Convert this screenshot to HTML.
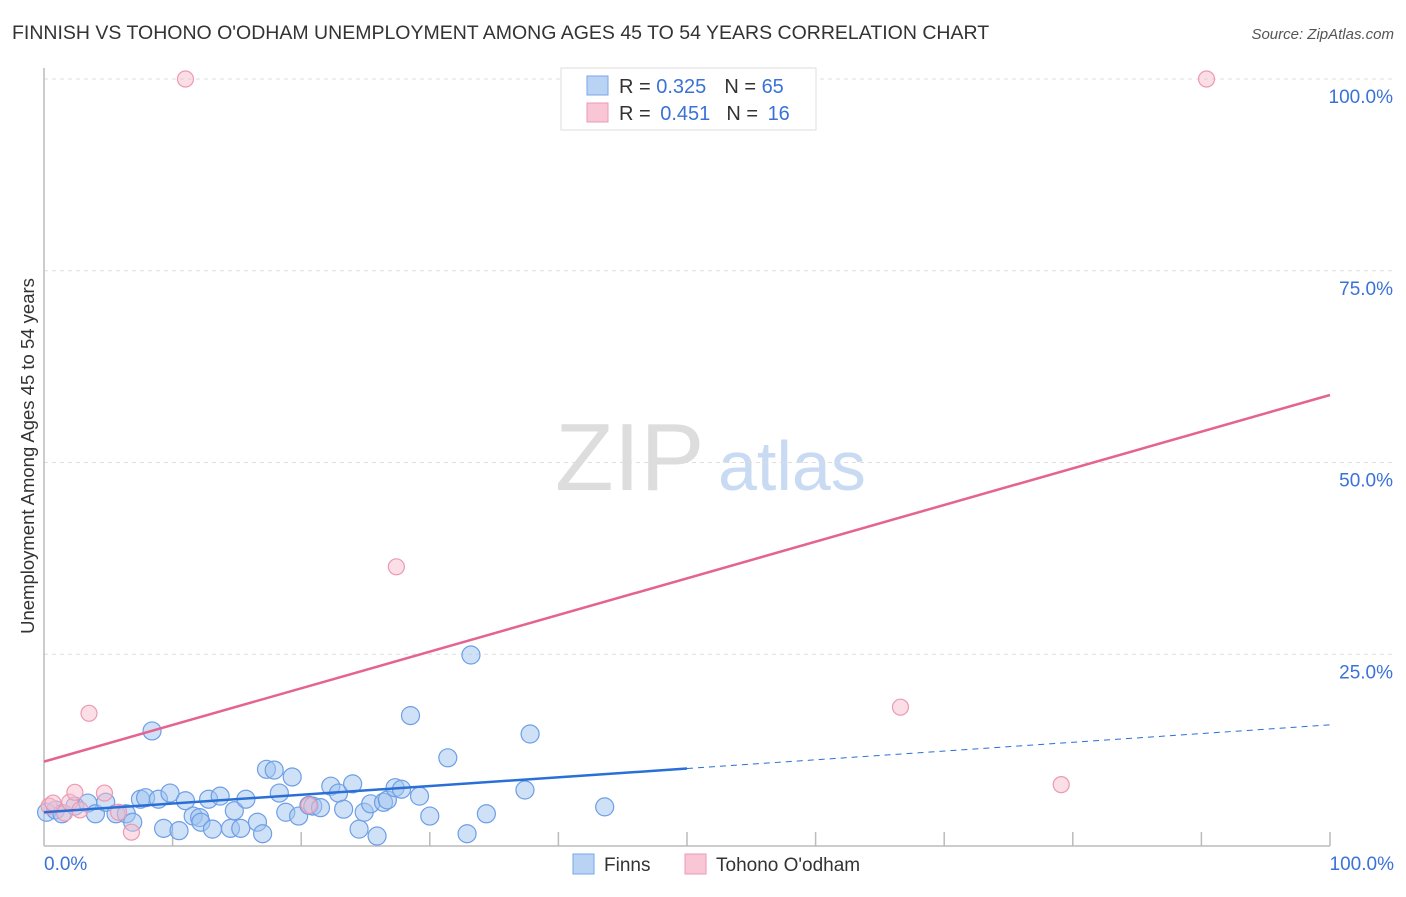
<!DOCTYPE html>
<html><head><meta charset="utf-8"><style>
body{margin:0;background:#fff;font-family:"Liberation Sans",sans-serif;}
svg text{font-family:"Liberation Sans",sans-serif;}
</style></head><body>
<svg width="1406" height="892" viewBox="0 0 1406 892" id="chart">
<text x="12" y="39" font-size="19.5" fill="#333">FINNISH VS TOHONO O'ODHAM UNEMPLOYMENT AMONG AGES 45 TO 54 YEARS CORRELATION CHART</text>
<text x="1394" y="39" font-size="15" fill="#555" font-style="italic" text-anchor="end">Source: ZipAtlas.com</text>
<text x="34" y="456" font-size="18.5" fill="#333" text-anchor="middle" transform="rotate(-90 34 456)">Unemployment Among Ages 45 to 54 years</text>
<g>
<text x="555" y="490" font-size="96" fill="#ddd" font-family="Liberation Serif,serif">ZIP</text>
<text x="718" y="490" font-size="70" fill="#c9daf3">atlas</text>
</g>
<g id="grid"></g><g id="ticks"></g>
<line x1="44" y1="68" x2="44" y2="846" stroke="#bbb" stroke-width="1.5"/>
<line x1="44" y1="846" x2="1330" y2="846" stroke="#bbb" stroke-width="1.5"/>
<g id="pts"></g><g id="trends"></g>
<text x="44" y="870" font-size="19" fill="#3a72d8">0.0%</text>
<text x="1394" y="870" font-size="19" fill="#3a72d8" text-anchor="end">100.0%</text>
<g>
<rect x="561" y="68" width="255" height="62" fill="#fff" stroke="#ddd"/>
<rect x="587" y="76" width="21" height="19" fill="#b9d3f5" stroke="#7aa6e6"/>
<rect x="587" y="103" width="21" height="19" fill="#f8c6d4" stroke="#eb9ab2"/>
<text x="619" y="93" font-size="20" fill="#333">R = <tspan fill="#3a72d8">0.325</tspan><tspan dx="18">N = </tspan><tspan fill="#3a72d8">65</tspan></text>
<text x="619" y="120" font-size="20" fill="#333">R = <tspan fill="#3a72d8" dx="4">0.451</tspan><tspan dx="16">N = </tspan><tspan fill="#3a72d8" dx="4">16</tspan></text>
</g>
<g><rect x="573" y="854" width="21" height="20" fill="#b9d3f5" stroke="#7aa6e6"/><text x="604" y="871" font-size="19" fill="#333">Finns</text></g>
<g><rect x="685" y="854" width="21" height="20" fill="#f8c6d4" stroke="#eb9ab2"/><text x="716" y="871" font-size="19" fill="#333">Tohono O'odham</text></g>
</svg>
<script>
const yTicks=[25,50,75,100];
const yTickLabels=["25.0%","50.0%","75.0%","100.0%"];
const finnsX=[0.2,0.9,1.4,2.4,3.4,4.0,4.8,5.6,6.4,6.9,7.5,7.9,8.4,8.9,9.3,9.8,10.5,11.0,11.6,12.1,12.2,12.8,13.1,13.7,14.5,14.8,15.3,15.7,16.6,17.0,17.3,17.9,18.3,18.8,19.3,19.8,20.6,20.9,21.5,22.3,22.9,23.3,24.0,24.5,24.9,25.4,25.9,26.4,26.7,27.3,27.8,28.5,29.2,30.0,31.4,32.9,33.2,34.4,37.4,37.8,43.6];
const finnsY=[4.4,4.7,4.2,5.2,5.6,4.2,5.7,4.2,4.2,3.1,6.1,6.3,15.0,6.1,2.3,6.9,2.0,5.9,3.9,3.7,3.1,6.1,2.2,6.5,2.3,4.6,2.3,6.1,3.1,1.6,10.0,9.9,6.9,4.4,9.0,3.9,5.3,5.2,5.0,7.8,6.9,4.8,8.1,2.2,4.4,5.5,1.3,5.7,6.0,7.6,7.4,17.0,6.5,3.9,11.5,1.6,24.9,4.2,7.3,14.6,5.1];
const tohonoX=[0.4,0.7,1.6,2.0,2.4,2.8,3.5,4.7,5.8,6.8,11.0,20.6,27.4,66.6,79.1,90.4];
const tohonoY=[5.2,5.6,4.3,5.7,7.0,4.7,17.3,6.9,4.4,1.8,100,5.3,36.4,18.1,8.0,100];
const finnsTrend=[4.4,15.8];
const tohonoTrend=[11.0,58.8];
const NS="http://www.w3.org/2000/svg";
const sx=v=>44+v*12.86, sy=v=>846-v*7.67;
function mk(t,a,p){const e=document.createElementNS(NS,t);for(const k in a)e.setAttribute(k,a[k]);document.getElementById(p).appendChild(e);return e;}
yTicks.forEach((t,i)=>{
 const l=mk('line',{x1:44,x2:1394,y1:sy(t),y2:sy(t),stroke:'#ddd','stroke-dasharray':'4,4'},'grid');
 
 
 const tx=mk('text',{x:1393,y:sy(t)+24,'font-size':19,fill:'#3a72d8','text-anchor':'end'},'grid');
 tx.textContent=yTickLabels[i];
 
 
});
for(let i=1;i<=10;i++){
 const l=mk('line',{x1:sx(i*10),x2:sx(i*10),y1:832,y2:846,stroke:'#bbb','stroke-width':1.5},'ticks');
 
 
}
finnsX.forEach((x,i)=>{
 const c=mk('circle',{cx:sx(x),cy:sy(finnsY[i]),r:9,fill:'rgba(160,196,240,0.5)',stroke:'#6d9ee6','stroke-width':1.2},'pts');
 
 
});
tohonoX.forEach((x,i)=>{
 const c=mk('circle',{cx:sx(x),cy:sy(tohonoY[i]),r:8,fill:'rgba(248,190,206,0.5)',stroke:'#eb9ab2','stroke-width':1.2},'pts');
 
 
});
const fAt=x=>finnsTrend[0]+(finnsTrend[1]-finnsTrend[0])*x/100;
let l1=mk('line',{x1:sx(0),y1:sy(fAt(0)),x2:sx(50),y2:sy(fAt(50)),stroke:'#2a6fd6','stroke-width':2.5},'trends');


let l2=mk('line',{x1:sx(50),y1:sy(fAt(50)),x2:sx(100),y2:sy(fAt(100)),stroke:'#2a6fd6','stroke-width':1,'stroke-dasharray':'6,5'},'trends');


let l3=mk('line',{x1:sx(0),y1:sy(tohonoTrend[0]),x2:sx(100),y2:sy(tohonoTrend[1]),stroke:'#e5648e','stroke-width':2.5},'trends');


</script>
</body></html>
